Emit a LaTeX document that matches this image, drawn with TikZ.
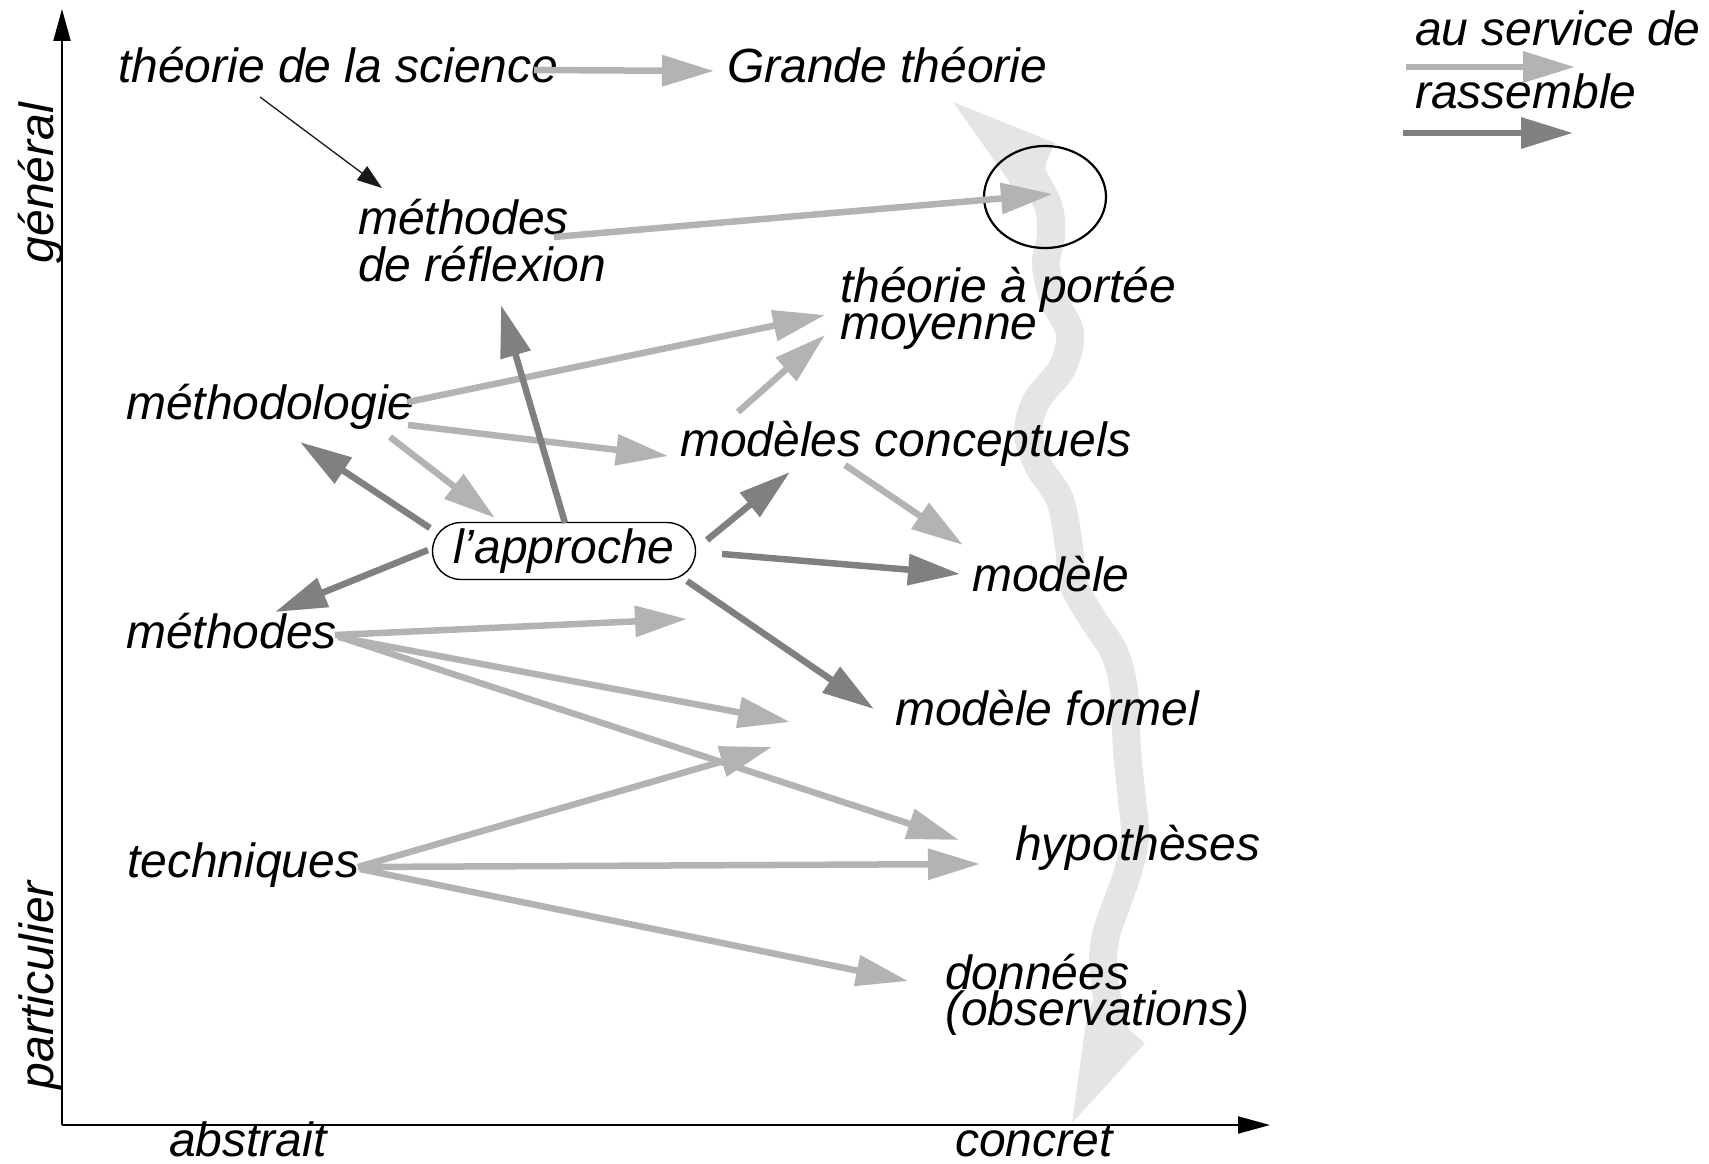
\documentclass[tikz,border=0pt]{standalone}
\usepackage{fontspec}
\setmainfont{Liberation Sans}
\usetikzlibrary{arrows.meta,shapes.misc,shapes.geometric}
\definecolor{servecol}{HTML}{B3B3B3}
\definecolor{gathercol}{HTML}{808080}
\definecolor{flowcol}{HTML}{E5E5E5}

\begin{document}
\begin{tikzpicture}[x=1pt,y=-1pt,
  word/.style={anchor=base west, inner sep=0pt,
    font=\fontsize{48}{48}\selectfont\itshape},
  lbl/.style={word, align=left},
  axislbl/.style={anchor=base, inner sep=0pt, rotate=90,
    font=\fontsize{48}{48}\selectfont\itshape},
  serves/.style={draw=servecol, line width=6.5pt,
    -{Triangle[length=52pt,width=30pt]}},
  gathers/.style={draw=gathercol, line width=6.5pt,
    -{Triangle[length=52pt,width=30pt]}},
  axisline/.style={draw=black, line width=2pt,
    -{Triangle[length=32pt,width=17pt]}},
  thinarrow/.style={draw=black!90, line width=1.3pt,
    -{Triangle[length=25pt,width=17pt]}}]

\useasboundingbox (0,0) rectangle (1709,1164);

% wide double-headed band from the general down to the concrete
\draw[flowcol, line width=28pt] plot[smooth, tension=0.55] coordinates {
  (1028,168) (1048,205) (1051,235) (1046,265) (1054,300) (1070,333)
  (1062,368) (1037,400) (1028,432) (1038,465) (1060,500) (1069,547)
  (1073,583) (1092,618) (1114,652) (1124,690) (1127,750) (1132,800)
  (1135,835) (1129,868) (1117,903) (1106,935) (1103,965) (1108,1002)};
\fill[flowcol] (953,102) -- (1055,143) -- (1047,160) -- (1041,195)
  -- (1015,195) -- (1008,180) -- cycle;
\fill[flowcol] (1072,1123) -- (1145,1043) -- (1129,1030) -- (1122,998)
  -- (1094,998) -- (1087,1015) -- cycle;

% axes
\coordinate (origin) at (62,1125);
\coordinate (ytip) at (62,9);
\coordinate (xtip) at (1270,1125);
\draw[axisline] (origin) -- (ytip);
\draw[axisline] (origin) -- (xtip);
\node[axislbl] (general) at (53,183) {général};
\node[axislbl] (particulier) at (53,985) {particulier};
\node[word] (abstrait) at (169,1156) {abstrait};
\node[word] (concret) at (955,1156) {concret};

% labels (multi-line labels are anchored on their last line)
\node[word] (sci) at (118,83) {théorie de la science};
\node[word] (grand) at (727,83) {Grande théorie};
\node[lbl, font=\fontsize{48}{47}\selectfont\itshape] (mref) at (358,281)
  {méthodes\\de réflexion};
\node[lbl, font=\fontsize{48}{32}\selectfont\itshape] (tpm) at (840,339)
  {théorie à portée\\moyenne};
\node[word] (mlogy) at (126,419) {méthodologie};
\node[word] (mconc) at (680,456) {modèles conceptuels};
\node[draw, rounded rectangle, line width=1.4pt, inner sep=0pt,
  minimum width=263pt, minimum height=57pt, fill=white,
  font=\fontsize{48}{48}\selectfont\itshape] (appr) at (564,551) {l’approche};
\node[word] (mod) at (972,591) {modèle};
\node[word] (meth) at (126,648) {méthodes};
\node[word] (mform) at (895,725) {modèle formel};
\node[word] (hyp) at (1015,860) {hypothèses};
\node[word] (tech) at (127,877) {techniques};
\node[lbl, font=\fontsize{48}{36}\selectfont\itshape] (data) at (945,1025)
  {données\\(observations)};
\node[draw, ellipse, line width=2.2pt, minimum width=122pt,
  minimum height=102pt] (hub) at (1045,197) {};

% legend
\node[word] (legserve) at (1415,46) {au service de};
\node[word] (leggather) at (1415,109) {rassemble};
\coordinate (ls1) at (1406,67);  \coordinate (ls2) at (1575,67);
\coordinate (lg1) at (1403,133); \coordinate (lg2) at (1573,133);
\draw[serves] (ls1) -- (ls2);
\draw[gathers] (lg1) -- (lg2);

% thin link
\coordinate (sci-o) at (260,97);
\coordinate (mref-i) at (382,188);
\draw[thinarrow] (sci-o) -- (mref-i);

% "au service de" links
\coordinate (sci-e) at (534,70);   \coordinate (grand-w) at (714,71);
\coordinate (mref-e) at (554,237); \coordinate (hub-c) at (1053,194);
\coordinate (mlogy-a) at (408,402); \coordinate (tpm-a) at (825,315);
\coordinate (mconc-n) at (738,412); \coordinate (tpm-b) at (825,335);
\coordinate (mlogy-b) at (408,425); \coordinate (mconc-w) at (668,456);
\coordinate (mlogy-c) at (390,437); \coordinate (appr-nw) at (495,518);
\coordinate (mconc-s) at (845,465); \coordinate (mod-nw) at (963,545);
\coordinate (meth-a) at (335,635); \coordinate (free-a) at (687,619);
\coordinate (meth-b) at (338,637); \coordinate (free-b) at (790,722);
\coordinate (meth-c) at (343,638); \coordinate (hyp-nw) at (959,840);
\coordinate (tech-a) at (358,867); \coordinate (free-c) at (772,747);
\coordinate (tech-b) at (358,867); \coordinate (hyp-w) at (980,864);
\coordinate (tech-c) at (360,869); \coordinate (data-w) at (908,981);
\draw[serves] (sci-e) -- (grand-w);
\draw[serves] (mref-e) -- (hub-c);
\draw[serves] (mlogy-a) -- (tpm-a);
\draw[serves] (mconc-n) -- (tpm-b);
\draw[serves] (mlogy-b) -- (mconc-w);
\draw[serves] (mlogy-c) -- (appr-nw);
\draw[serves] (mconc-s) -- (mod-nw);
\draw[serves] (meth-a) -- (free-a);
\draw[serves] (meth-b) -- (free-b);
\draw[serves] (meth-c) -- (hyp-nw);
\draw[serves] (tech-a) -- (free-c);
\draw[serves] (tech-b) -- (hyp-w);
\draw[serves] (tech-c) -- (data-w);

% "rassemble" links from the approach
\coordinate (appr-n) at (565,523);  \coordinate (mref-s) at (501,305);
\coordinate (appr-w1) at (430,528); \coordinate (mlogy-s) at (300,442);
\coordinate (appr-w2) at (428,550); \coordinate (meth-n) at (275,612);
\coordinate (appr-ne) at (707,540); \coordinate (mconc-sw) at (790,472);
\coordinate (appr-e) at (722,554);  \coordinate (mod-w) at (960,574);
\coordinate (appr-se) at (687,581); \coordinate (mform-w) at (874,709);
\draw[gathers] (appr-n) -- (mref-s);
\draw[gathers] (appr-w1) -- (mlogy-s);
\draw[gathers] (appr-w2) -- (meth-n);
\draw[gathers] (appr-ne) -- (mconc-sw);
\draw[gathers] (appr-e) -- (mod-w);
\draw[gathers] (appr-se) -- (mform-w);
\end{tikzpicture}
\end{document}
